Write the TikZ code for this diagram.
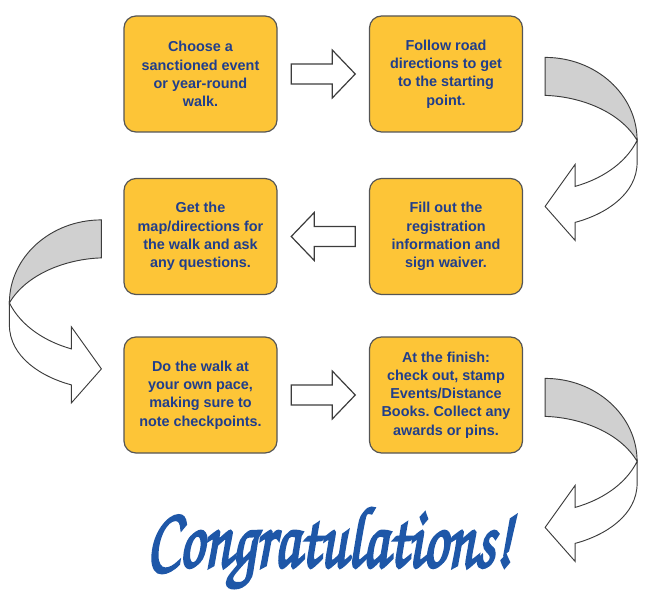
\documentclass[tikz,border=0pt]{standalone}
\usepackage{fontspec}
\usepackage{graphicx}
\setmainfont{Liberation Sans}
\newfontfamily\chorus[FakeBold=3.5]{TeX Gyre Chorus}
\usetikzlibrary{calc}
\frenchspacing
\definecolor{boxfill}{RGB}{253,197,55}
\definecolor{boxline}{RGB}{85,85,85}
\definecolor{boxtext}{RGB}{32,62,140}
\definecolor{arrline}{RGB}{60,60,60}
\definecolor{bandgray}{RGB}{208,208,208}
\definecolor{congblue}{RGB}{30,87,168}
\newcommand\curvedarrow{%
  \filldraw[curvearr, fill=bandgray] (22,42) .. controls (72.8,42) and (114,79.2) .. (114,125)
     .. controls (97,96) and (57,81) .. (22,80) -- cycle;
  \filldraw[curvearr, fill=white] (114,125) -- (114,147) .. controls (114,179) and (82,199) .. (52,207)
     -- (52,225) -- (22,191) -- (52,149) -- (52,171) .. controls (77,164) and (102,149) .. (114,125) -- cycle;}
\begin{document}
\begin{tikzpicture}[x=0.75pt,y=-0.75pt,
  stepbox/.style={draw=boxline, line width=0.9pt, fill=boxfill, rounded corners=9pt,
    minimum width=114.75pt, minimum height=87pt, inner sep=0pt, align=center,
    text=boxtext, font=\fontsize{10.8}{13.7}\selectfont\bfseries},
  blockarr/.style={draw=arrline, line width=0.9pt, fill=white, line join=miter},
  curvearr/.style={draw=arrline, line width=0.7pt, line join=miter},
]
\useasboundingbox (0,0) rectangle (645,606);
\node[stepbox] (b1) at (200.5,74) {Choose a\\sanctioned event\\or year-round\\walk.};
\node[stepbox] (b2) at (446,74) {Follow road\\directions to get\\to the starting\\point.};
\node[stepbox] (b3) at (200.5,236.5) {Get the\\map/directions for\\the walk and ask\\any questions.};
\node[stepbox] (b4) at (446,236.5) {Fill out the\\registration\\information and\\sign waiver.};
\node[stepbox] (b5) at (200.5,395) {Do the walk at\\your own pace,\\making sure to\\note checkpoints.};
\node[stepbox] (b6) at (446,395) {At the finish:\\check out, stamp\\Events/Distance\\Books. Collect any\\awards or pins.};
% straight block arrows
\coordinate (m12) at ($(b1.east)!0.5!(b2.west)$);
\coordinate (m43) at ($(b4.west)!0.5!(b3.east)$);
\coordinate (m56) at ($(b5.east)!0.5!(b6.west)$);
\draw[blockarr, shift={(m12)}] (-32,-10) -- (9,-10) -- (9,-24) -- (32,0) -- (9,24) -- (9,10) -- (-32,10) -- cycle;
\draw[blockarr, shift={(m43)}, xscale=-1] (-32,-10) -- (9,-10) -- (9,-24) -- (32,0) -- (9,24) -- (9,10) -- (-32,10) -- cycle;
\draw[blockarr, shift={(m56)}] (-32,-10) -- (9,-10) -- (9,-24) -- (32,0) -- (9,24) -- (9,10) -- (-32,10) -- cycle;
% curved arrows
\begin{scope}[shift={(b2.north east)}] \curvedarrow \end{scope}
\begin{scope}[shift={(b3.north west)}, xscale=-1] \curvedarrow \end{scope}
\begin{scope}[shift={(b6.north east)}] \curvedarrow \end{scope}
% final text
\node[inner sep=0pt, text=congblue] (congrats) at (329.5,548)
  {\resizebox*{273.75pt}{60pt}{\chorus Congratulations!}};
\end{tikzpicture}
\end{document}
